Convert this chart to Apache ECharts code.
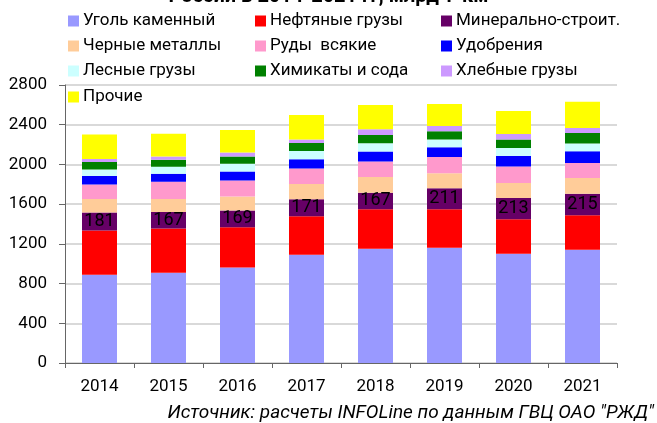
<!DOCTYPE html>
<html><head><meta charset="utf-8">
<script src="https://cdn.jsdelivr.net/npm/echarts@6/dist/echarts.min.js"></script>
<style>html,body{margin:0;padding:0;background:#fff}#c{width:657px;height:423px}</style>
</head><body><div id="c"></div>
<script>
const years = ['2014','2015','2016','2017','2018','2019','2020','2021'];
const yTicks = [0,400,800,1200,1600,2000,2400,2800];
const coal    = [888, 908, 962, 1090, 1150, 1160, 1100, 1140];
const oil     = [446, 446, 406, 389, 399, 389, 348, 349];
const mineral = [181, 167, 169, 171, 167, 211, 213, 215];
const metals  = [137, 131, 140, 154, 158, 151, 153, 160];
const ores    = [147, 174, 161, 154, 155, 164, 164, 151];
const fert    = [84, 81, 91, 94, 100, 97, 107, 118];
const forest  = [67, 70, 77, 84, 84, 80, 80, 77];
const chem    = [74, 71, 74, 80, 84, 81, 87, 107];
const grain   = [30, 33, 40, 34, 57, 53, 54, 50];
const other   = [248, 228, 228, 248, 245, 222, 231, 265];
const names = ['Уголь каменный','Нефтяные грузы','Минерально-строит.','Черные металлы','Руды  всякие','Удобрения','Лесные грузы','Химикаты и сода','Хлебные грузы','Прочие'];
const values = [coal, oil, mineral, metals, ores, fert, forest, chem, grain, other];
const colors = ['#9999FF','#FF0000','#660066','#FFCC99','#FF99CC','#0000FF','#CCFFFF','#008000','#CC99FF','#FFFF00'];
const titleText = 'России в 2014-2021 гг, млрд т-км';
const sourceText = 'Источник: расчеты INFOLine по данным ГВЦ ОАО "РЖД"';

const FONT = 'Roboto';
const colX = [68, 255, 441];
const rowY = [12.5, 37.5, 62.5, 88.5];
const legends = names.map((n, i) => ({
  data: [n], left: colX[i % 3], top: rowY[Math.floor(i / 3)], padding: 0,
  itemWidth: 11, itemHeight: 11, icon: 'rect', selectedMode: false,
  textStyle: { fontFamily: FONT, fontSize: 17, color: '#000', padding: [0,0,0,-1] }
}));

const series = names.map((n, i) => ({
  name: n, type: 'bar', stack: 'all', barWidth: 35,
  itemStyle: { color: colors[i] },
  data: values[i],
  label: i === 2 ? { show: true, position: 'inside', color: '#000', fontFamily: FONT, fontSize: 18, formatter: '{c}' } : { show: false }
}));

const chart = echarts.init(document.getElementById('c'), null, { renderer: 'canvas' });
chart.setOption({
  animation: false,
  backgroundColor: '#fff',
  legend: legends,
  grid: { left: 65, right: 40, top: 85, bottom: 60, containLabel: false },
  xAxis: {
    type: 'category', data: years,
    axisLine: { lineStyle: { color: '#666', width: 1 } },
    axisTick: { show: true, length: 5, lineStyle: { color: '#666' } },
    axisLabel: { fontFamily: FONT, fontSize: 17, color: '#000', margin: 15 }
  },
  yAxis: {
    type: 'value', min: yTicks[0], max: yTicks[yTicks.length - 1], interval: yTicks[1] - yTicks[0],
    axisLine: { show: true, lineStyle: { color: '#666', width: 1 } },
    axisTick: { show: true, length: 6, lineStyle: { color: '#666' } },
    splitLine: { lineStyle: { color: '#d9d9d9', width: 2 } },
    axisLabel: { fontFamily: FONT, fontSize: 17, color: '#000', margin: 18, formatter: v => String(v) }
  },
  graphic: [
    { type: 'text', left: 'center', top: -13, style: { text: titleText, font: 'bold 20px ' + FONT, fill: '#000' } },
    { type: 'text', right: 3, top: 404, style: { text: sourceText, font: 'italic 19px ' + FONT, fill: '#000' } }
  ],
  series: series
});
</script></body></html>
